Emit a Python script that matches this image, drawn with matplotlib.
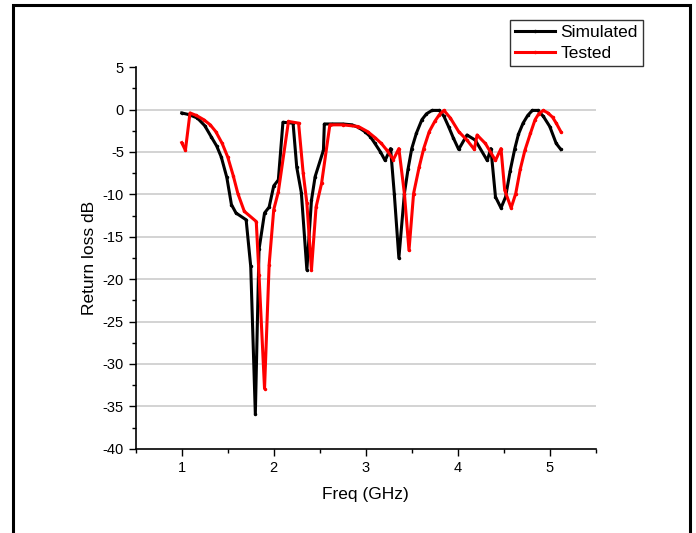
import numpy as np
import matplotlib
matplotlib.use("Agg")
import matplotlib.pyplot as plt
from matplotlib.patches import Rectangle
from matplotlib.ticker import MultipleLocator

plt.rcParams['font.family'] = ['Liberation Sans', 'DejaVu Sans']
plt.rcParams['axes.unicode_minus'] = False

# Simulated curve (GHz, dB)
sim_f = [1.00, 1.08, 1.17, 1.25, 1.32, 1.38, 1.43, 1.49, 1.54, 1.59, 1.70, 1.75,
         1.80, 1.84, 1.90, 1.95, 2.00, 2.05, 2.10, 2.21, 2.25, 2.30, 2.36, 2.41,
         2.45, 2.54, 2.55, 2.63, 2.75, 2.85, 2.92, 2.99, 3.05, 3.10, 3.16, 3.21,
         3.27, 3.31, 3.36, 3.42, 3.46, 3.50, 3.55, 3.61, 3.66, 3.72, 3.80, 3.85,
         3.90, 3.95, 4.01, 4.10, 4.19, 4.32, 4.36, 4.41, 4.47, 4.52, 4.57, 4.62,
         4.66, 4.71, 4.76, 4.81, 4.87, 4.93, 5.00, 5.07, 5.12]
sim_db = [-0.4, -0.6, -1.0, -1.9, -3.2, -4.3, -5.6, -8.0, -11.2, -12.2, -13.0, -18.5,
          -35.9, -16.5, -12.2, -11.5, -9.0, -8.3, -1.5, -1.6, -6.8, -9.8, -18.9, -10.7,
          -7.9, -4.8, -1.7, -1.7, -1.7, -1.8, -2.1, -2.6, -3.2, -4.0, -5.0, -6.0,
          -4.6, -9.9, -17.5, -9.9, -7.0, -4.6, -2.8, -1.2, -0.5, -0.1, -0.1, -0.8,
          -2.0, -3.3, -4.7, -3.0, -3.6, -6.0, -4.6, -10.3, -11.6, -10.3, -7.2, -4.6,
          -2.9, -1.6, -0.7, -0.1, -0.1, -0.8, -2.0, -4.0, -4.7]

# Tested curve (GHz, dB)
test_f = [1.00, 1.04, 1.09, 1.16, 1.24, 1.31, 1.37, 1.44, 1.50, 1.56, 1.61, 1.68,
          1.81, 1.84, 1.90, 1.95, 2.00, 2.05, 2.16, 2.27, 2.32, 2.36, 2.41, 2.46,
          2.52, 2.61, 2.75, 2.92, 3.02, 3.10, 3.17, 3.23, 3.30, 3.36, 3.42, 3.47,
          3.52, 3.58, 3.63, 3.69, 3.75, 3.80, 3.85, 3.92, 4.01, 4.10, 4.18, 4.21,
          4.30, 4.41, 4.47, 4.51, 4.58, 4.63, 4.68, 4.73, 4.79, 4.84, 4.88, 4.93,
          4.98, 5.03, 5.07, 5.12]
test_db = [-3.9, -4.8, -0.4, -0.7, -1.2, -1.8, -2.6, -4.0, -5.6, -7.8, -9.9, -12.0,
           -13.2, -19.5, -32.9, -18.3, -11.8, -9.7, -1.4, -1.6, -7.5, -11.0, -18.9, -11.5,
           -8.7, -1.8, -1.8, -2.0, -2.6, -3.3, -4.0, -4.8, -5.9, -4.6, -9.9, -16.6,
           -9.9, -6.8, -4.6, -2.6, -1.4, -0.6, -0.1, -1.0, -2.6, -3.6, -4.7, -3.0,
           -4.0, -6.0, -4.6, -9.5, -11.6, -9.9, -7.0, -4.8, -2.8, -1.2, -0.5, -0.1,
           -0.4, -0.9, -1.6, -2.6]

fig = plt.figure(figsize=(6.96, 5.33), dpi=100)
ax = fig.add_axes([0.195, 0.158, 0.661, 0.716])

ax.plot(sim_f, sim_db, color='black', lw=2.2, marker='.', ms=3, label='Simulated')
ax.plot(test_f, test_db, color='red', lw=2.2, marker='.', ms=3, label='Tested')

ax.set_xlim(0.5, 5.5)
ax.set_ylim(-40, 5)
ax.set_xticks([1, 2, 3, 4, 5])
ax.set_yticks(np.arange(-40, 6, 5))
ax.xaxis.set_minor_locator(MultipleLocator(0.5))
ax.yaxis.set_minor_locator(MultipleLocator(2.5))
ax.tick_params(which='major', direction='out', length=5, width=1, labelsize=10.5)
ax.tick_params(which='minor', direction='out', length=3, width=1)

for v in range(-35, 1, 5):
    ax.axhline(v, color='#cccccc', lw=1.2, zorder=0)

ax.spines['top'].set_visible(False)
ax.spines['right'].set_visible(False)
ax.spines['left'].set_linewidth(1.2)
ax.spines['bottom'].set_linewidth(1.2)

ax.set_xlabel('Freq (GHz)', fontsize=12.5, labelpad=9)
ax.set_ylabel('Return loss dB', fontsize=12.5)

leg = fig.legend(loc='upper right', bbox_to_anchor=(643 / 696, 1 - 20 / 533),
                 fontsize=12.5, frameon=True, fancybox=False, edgecolor='black',
                 handlelength=2.3, borderpad=0.3, labelspacing=0.3,
                 handletextpad=0.3, borderaxespad=0)
leg.get_frame().set_linewidth(1.0)

# outer border around the figure
fig.patches.append(Rectangle((13 / 696, -0.05), (690 - 13) / 696, 1 - 5 / 533 + 0.05,
                             transform=fig.transFigure, fill=False,
                             edgecolor='black', lw=2.2))

fig.savefig('out.png', dpi=100)
